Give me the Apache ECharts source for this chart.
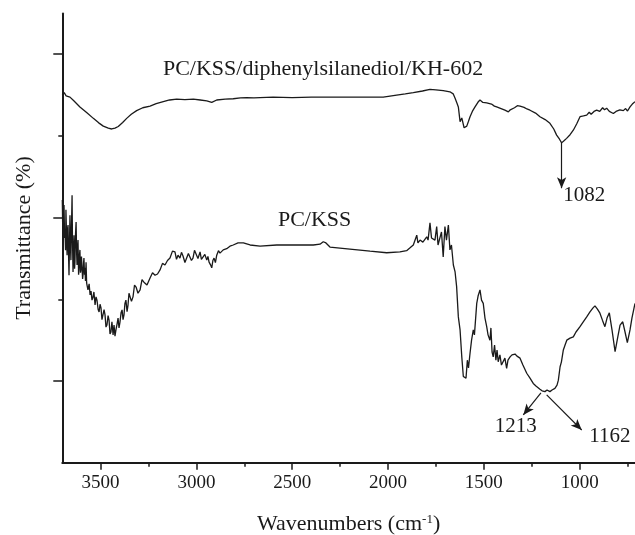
<!DOCTYPE html>
<html>
<head>
<meta charset="utf-8">
<script src="https://cdn.jsdelivr.net/npm/echarts@6/dist/echarts.min.js"></script>
<style>
html,body{margin:0;padding:0;background:#fff;}
#c{width:635px;height:535px;}
</style>
</head>
<body>
<div id="c"></div>
<script>
// ---- data (wavenumber cm-1, transmittance in arbitrary units) ----
var xMajorTicks = [3500, 3000, 2500, 2000, 1500, 1000];
var xMinorTicks = [3250, 2750, 2250, 1750, 1250, 750];
var yMajorTicks = [20, 60, 100];
var yMinorTicks = [40, 80];

var topName = 'PC/KSS/diphenylsilanediol/KH-602';
var topWn = [3700,3690,3680,3670,3660,3640,3608,3570,3538,3510,3486,3460,3442,3425,3408,3385,3364,3340,3312,3280,3242,3210,3173,3140,3103,3060,3016,2980,2946,2920,2894,2850,2808,2770,2738,2700,2668,2600,2500,2400,2300,2146,2025,1955,1910,1868,1820,1781,1750,1712,1677,1660,1650,1640,1633,1624,1615,1603,1589,1580,1572,1560,1546,1530,1520,1505,1495,1485,1460,1445,1433,1410,1390,1380,1372,1362,1355,1340,1325,1311,1290,1275,1259,1230,1207,1180,1155,1135,1120,1105,1094,1080,1068,1050,1033,1015,998,980,963,950,940,925,911,895,880,870,859,845,835,824,810,800,790,772,760,750,737,725,711];
var topT  = [90.0,90.6,89.8,90.2,89.5,88.6,87.1,85.6,84.3,83.2,82.4,81.9,81.7,81.9,82.3,83.3,84.3,85.3,86.2,86.9,87.3,87.9,88.4,88.8,89.0,88.9,89.0,88.8,88.6,88.2,88.8,89.0,89.1,89.3,89.4,89.3,89.4,89.5,89.4,89.5,89.5,89.5,89.5,90.0,90.3,90.6,91.0,91.4,91.3,91.1,90.8,90.3,89.2,88.0,87.1,83.5,84.4,82.0,82.4,83.6,84.7,86.0,87.1,88.3,88.8,88.2,88.6,88.1,87.8,87.3,87.1,86.7,86.3,86.6,85.9,86.4,86.5,86.9,87.4,87.3,87.0,86.6,86.3,85.6,84.7,84.0,83.1,81.7,80.2,79.2,78.3,78.9,79.4,80.3,81.4,83.0,84.7,84.9,85.1,85.8,85.3,86.0,86.3,86.0,86.9,86.4,86.8,86.0,86.3,85.5,86.0,85.6,86.4,86.2,86.7,86.1,87.1,87.8,88.4];

var botName = 'PC/KSS';
var botWn = [3700,3698,3696,3693,3691,3688,3686,3683,3681,3678,3675,3672,3670,3667,3665,3662,3660,3657,3655,3652,3649,3647,3644,3641,3639,3636,3634,3631,3628,3625,3623,3620,3618,3615,3613,3610,3608,3605,3602,3600,3597,3594,3592,3589,3587,3584,3582,3579,3576,3573,3571,3566,3560,3555,3550,3545,3540,3535,3529,3524,3519,3513,3508,3503,3498,3493,3488,3482,3477,3472,3467,3461,3456,3451,3446,3441,3435,3430,3425,3420,3414,3409,3404,3399,3393,3388,3383,3378,3373,3368,3362,3357,3352,3347,3339,3331,3323,3315,3305,3294,3284,3274,3258,3242,3229,3216,3203,3190,3177,3164,3151,3138,3125,3112,3104,3096,3086,3078,3070,3060,3051,3042,3034,3026,3018,3010,3002,2992,2981,2974,2966,2956,2946,2940,2934,2927,2920,2914,2908,2901,2894,2885,2877,2860,2842,2825,2808,2783,2755,2720,2668,2581,2494,2390,2355,2338,2324,2303,2199,2094,2007,1938,1903,1885,1868,1850,1844,1833,1818,1798,1791,1781,1773,1764,1755,1746,1739,1729,1721,1712,1703,1695,1685,1677,1669,1659,1650,1642,1633,1624,1615,1607,1593,1586,1580,1572,1564,1555,1549,1537,1530,1520,1512,1503,1494,1485,1478,1468,1463,1457,1451,1444,1437,1431,1425,1416,1408,1398,1390,1381,1374,1363,1353,1337,1327,1311,1296,1276,1259,1242,1228,1207,1196,1181,1170,1155,1144,1129,1118,1111,1102,1095,1085,1076,1067,1050,1033,1019,998,982,963,946,930,920,907,894,881,868,857,845,831,815,800,789,775,763,751,737,727,711];
var botT  = [64.3,58.0,53.3,60.5,63.1,55.0,57.0,52.0,61.9,56.0,50.8,57.5,58.2,50.0,45.9,55.0,60.6,52.5,49.6,58.0,65.5,55.0,46.7,52.0,55.7,47.5,49.1,56.0,58.9,51.0,48.4,53.0,54.5,46.0,47.2,51.0,52.1,46.5,47.7,50.5,50.8,45.0,45.9,49.0,50.1,46.0,47.7,44.5,49.1,44.0,43.5,42.3,43.8,41.1,42.0,39.8,40.5,41.8,38.6,40.6,39.8,37.5,36.9,38.8,37.9,35.0,35.4,37.5,36.2,33.2,33.7,36.0,34.9,31.5,32.0,34.5,31.3,33.7,31.0,32.5,34.0,35.4,33.0,34.4,36.8,37.4,35.0,36.2,39.0,39.8,37.0,38.6,41.5,41.1,39.5,40.6,43.5,43.0,41.5,42.3,44.8,44.2,43.5,45.2,46.5,45.9,46.2,47.2,48.8,48.4,49.5,50.1,51.8,51.6,49.8,50.8,50.1,51.5,50.6,49.0,48.9,51.2,50.8,49.5,50.1,52.0,51.6,50.0,51.6,49.8,50.1,51.0,49.6,50.5,49.1,48.5,47.7,49.5,50.1,49.0,50.8,51.9,51.3,52.1,52.4,53.0,53.3,53.8,53.8,53.3,53.0,53.3,53.3,53.3,53.5,54.1,53.8,52.8,52.3,51.8,51.4,51.6,51.9,52.6,53.3,55.7,53.8,54.5,54.0,55.3,54.5,58.7,55.0,55.3,54.5,57.8,53.3,52.9,56.5,50.4,57.8,54.5,58.2,52.1,53.3,48.4,46.7,43.1,35.7,32.5,25.9,21.1,20.7,25.1,23.2,26.8,30.0,32.5,31.3,39.0,40.8,42.3,39.8,39.0,35.4,33.3,31.3,30.0,33.0,27.1,25.9,28.8,25.1,27.6,24.7,26.4,23.9,24.3,25.6,23.1,25.1,25.9,26.4,26.6,26.1,25.6,23.9,21.9,20.7,19.4,18.8,18.0,17.6,17.4,17.8,17.4,17.8,18.2,19.0,20.2,23.5,24.7,27.6,28.8,30.0,30.5,30.8,32.0,33.3,34.4,35.7,36.9,37.9,38.4,37.6,36.6,34.9,33.3,35.4,36.7,32.5,27.2,31.0,33.7,34.5,32.0,29.4,32.5,35.4,39.0];

// annotation positions (data coordinates)
var peakTop = {label: '1082', from: [1094, 78.3], to: [1094, 67.2], text: [976, 65.5]};
var peakA   = {label: '1213', from: [1202, 17.1], to: [1294, 11.7], text: [1333, 8.8]};
var peakB   = {label: '1162', from: [1172, 16.6], to: [989, 8.0],  text: [842, 6.4]};
var nameTopPos = [2339, 96.4];
var nameBotPos = [2383, 59.4];

function zip(a, b) { return a.map(function (v, i) { return [v, b[i]]; }); }

var FONT = "'Liberation Serif','Times New Roman',serif";
var INK = '#1a1a1a';

function textPoint(pos, txt, size) {
  return {
    coord: pos, value: txt, symbol: 'circle', symbolSize: 1,
    itemStyle: {color: 'rgba(0,0,0,0)'},
    label: {show: true, position: 'inside', formatter: txt, fontFamily: FONT,
            fontSize: size, color: INK}
  };
}
function arrow(p) {
  return [{coord: p.from}, {coord: p.to}];
}

var chart = echarts.init(document.getElementById('c'), null, {renderer: 'canvas'});
var xBase = {
  type: 'value', inverse: true, min: 711, max: 3700, position: 'bottom',
  splitLine: {show: false}
};
var yBase = {type: 'value', min: 0, max: 110, position: 'left', splitLine: {show: false}};

chart.setOption({
  animation: false,
  backgroundColor: '#fff',
  grid: {left: 62.3, right: 0, top: 13.4, bottom: 72.3, containLabel: false, outerBoundsMode: 'none'},
  xAxis: [
    Object.assign({}, xBase, {
      axisLine: {show: true, onZero: false, lineStyle: {color: INK, width: 2}},
      axisTick: {show: true, inside: false, length: 7, customValues: xMajorTicks, lineStyle: {color: INK, width: 1.5}},
      axisLabel: {show: true, customValues: xMajorTicks, margin: 11, fontFamily: FONT, fontSize: 19, color: INK,
                  formatter: function (v) { return String(v); }},
      name: 'Wavenumbers (cm{sup|-1})', nameLocation: 'middle', nameGap: 50,
      nameTextStyle: {fontFamily: FONT, fontSize: 22, color: INK,
        rich: {sup: {fontFamily: FONT, fontSize: 13, color: INK, verticalAlign: 'top', padding: [0, 0, 10, 0]}}}
    }),
    Object.assign({}, xBase, {
      axisLine: {show: false},
      axisTick: {show: true, inside: false, length: 4, customValues: xMinorTicks, lineStyle: {color: INK, width: 1.5}},
      axisLabel: {show: false}
    })
  ],
  yAxis: [
    Object.assign({}, yBase, {
      axisLine: {show: true, onZero: false, lineStyle: {color: INK, width: 2}},
      axisTick: {show: true, inside: false, length: 9, customValues: yMajorTicks, lineStyle: {color: INK, width: 1.5}},
      axisLabel: {show: false},
      name: 'Transmittance (%)', nameLocation: 'middle', nameGap: 27,
      nameTextStyle: {fontFamily: FONT, fontSize: 22, color: INK}
    }),
    Object.assign({}, yBase, {
      axisLine: {show: false},
      axisTick: {show: true, inside: false, length: 4, customValues: yMinorTicks, lineStyle: {color: INK, width: 1.5}},
      axisLabel: {show: false}
    })
  ],
  series: [
    {
      name: topName, type: 'line', xAxisIndex: 0, yAxisIndex: 0,
      data: zip(topWn, topT), showSymbol: false, symbol: 'none',
      lineStyle: {color: INK, width: 1.3},
      markLine: {
        silent: true, symbol: ['none', 'arrow'], symbolSize: [7, 11],
        lineStyle: {color: INK, width: 1.2, type: 'solid'}, label: {show: false},
        data: [arrow(peakTop)]
      },
      markPoint: {
        silent: true,
        data: [textPoint(nameTopPos, topName, 22), textPoint(peakTop.text, peakTop.label, 21)]
      }
    },
    {
      name: botName, type: 'line', xAxisIndex: 0, yAxisIndex: 0,
      data: zip(botWn, botT), showSymbol: false, symbol: 'none',
      lineStyle: {color: INK, width: 1.3},
      markLine: {
        silent: true, symbol: ['none', 'arrow'], symbolSize: [7, 11],
        lineStyle: {color: INK, width: 1.2, type: 'solid'}, label: {show: false},
        data: [arrow(peakA), arrow(peakB)]
      },
      markPoint: {
        silent: true,
        data: [textPoint(nameBotPos, botName, 22), textPoint(peakA.text, peakA.label, 21), textPoint(peakB.text, peakB.label, 21)]
      }
    }
  ]
});
</script>
</body>
</html>
